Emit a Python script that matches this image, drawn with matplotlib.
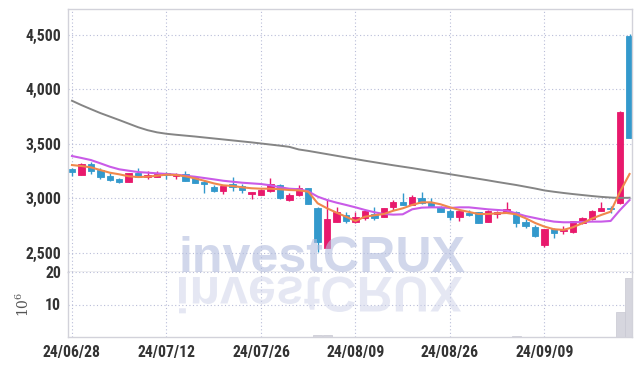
import matplotlib
matplotlib.use('Agg')
import matplotlib.pyplot as plt
from matplotlib.textpath import TextPath
from matplotlib.font_manager import FontProperties, fontManager
from matplotlib.patches import PathPatch
from matplotlib.transforms import Affine2D, IdentityTransform

plt.rcParams['mathtext.fontset'] = 'dejavuserif'

# ---------------- data ----------------
dates = ['24/06/28',
         '24/07/01', '24/07/02', '24/07/03', '24/07/04', '24/07/05', '24/07/08', '24/07/09', '24/07/10', '24/07/11', '24/07/12',
         '24/07/15', '24/07/16', '24/07/17', '24/07/18', '24/07/19', '24/07/22', '24/07/23', '24/07/24', '24/07/25', '24/07/26',
         '24/07/29', '24/07/30', '24/07/31', '24/08/01', '24/08/02', '24/08/05', '24/08/06', '24/08/07', '24/08/08', '24/08/09',
         '24/08/12', '24/08/13', '24/08/14', '24/08/16', '24/08/19', '24/08/20', '24/08/21', '24/08/22', '24/08/23', '24/08/26',
         '24/08/27', '24/08/28', '24/08/29', '24/08/30', '24/09/02', '24/09/03', '24/09/04', '24/09/05', '24/09/06', '24/09/09',
         '24/09/10', '24/09/11', '24/09/12', '24/09/13', '24/09/19', '24/09/20', '24/09/23', '24/09/24', '24/09/25']

opens = [3269, 3216, 3315, 3260, 3204, 3177, 3152, 3235, 3198, 3198,
         3235, 3207, 3223, 3193, 3149, 3104, 3070, 3128, 3113, 3042,
         3033, 3070, 3122, 2984, 3027, 3092, 2911, 2547, 2785, 2847,
         2785, 2822, 2853, 2831, 2924, 2969, 2939, 3000, 2969, 2917,
         2884, 2832, 2865, 2874, 2783, 2859, 2868, 2874, 2786, 2734,
         2572, 2716, 2697, 2688, 2773, 2810, 2886, 2908, 2960, 4491]
highs = [3275, 3321, 3333, 3281, 3235, 3186, 3235, 3275, 3253, 3253,
         3241, 3231, 3248, 3198, 3168, 3125, 3116, 3193, 3128, 3061,
         3083, 3183, 3128, 3051, 3122, 3098, 2917, 2996, 2917, 2874,
         2871, 2893, 2917, 2914, 2982, 3051, 3027, 3058, 3000, 2932,
         2899, 2899, 2893, 2877, 2890, 2884, 2969, 2884, 2807, 2752,
         2721, 2730, 2743, 2795, 2831, 2893, 2963, 2932, 3803, 4504]
lows = [3204, 3211, 3223, 3180, 3159, 3140, 3146, 3192, 3174, 3192,
        3180, 3174, 3158, 3140, 3051, 3055, 3037, 3064, 3051, 2994,
        3027, 3055, 2991, 2978, 3021, 2945, 2510, 2541, 2780, 2771,
        2776, 2804, 2798, 2829, 2893, 2939, 2936, 2945, 2917, 2874,
        2801, 2795, 2838, 2774, 2780, 2822, 2862, 2734, 2728, 2642,
        2556, 2639, 2670, 2682, 2764, 2801, 2880, 2868, 2948, 3556]
closes = [3241, 3315, 3253, 3198, 3171, 3152, 3229, 3198, 3213, 3220,
          3211, 3225, 3161, 3143, 3134, 3067, 3113, 3106, 3076, 3061,
          3076, 3131, 3006, 3033, 3092, 2950, 2599, 2810, 2874, 2795,
          2829, 2884, 2822, 2908, 2966, 2939, 3012, 2954, 2932, 2877,
          2832, 2884, 2850, 2776, 2884, 2877, 2902, 2776, 2746, 2654,
          2716, 2679, 2712, 2789, 2822, 2886, 2911, 2899, 3791, 3556]

ma5 = [3305, 3296, 3284, 3259, 3235, 3220, 3202, 3195, 3198, 3207,
       3217, 3214, 3202, 3183, 3161, 3137, 3119, 3113, 3101, 3092,
       3088, 3088, 3083, 3076, 3073, 3061, 2954, 2908, 2868, 2831,
       2792, 2831, 2844, 2856, 2886, 2908, 2939, 2963, 2963, 2945,
       2917, 2893, 2875, 2856, 2856, 2862, 2865, 2853, 2817, 2774,
       2740, 2716, 2710, 2734, 2771, 2813, 2847, 2877, 3061, 3223]
ma10 = [3388, 3370, 3351, 3321, 3290, 3266, 3253, 3241, 3235, 3229,
        3223, 3217, 3207, 3198, 3186, 3174, 3161, 3152, 3143, 3137,
        3131, 3119, 3101, 3088, 3083, 3064, 3015, 2984, 2960, 2939,
        2917, 2893, 2872, 2856, 2850, 2853, 2899, 2914, 2917, 2917,
        2911, 2917, 2917, 2908, 2899, 2893, 2887, 2862, 2837, 2819,
        2801, 2786, 2780, 2780, 2783, 2786, 2786, 2792, 2893, 2984]
ma_long = [3895, 3855, 3818, 3782, 3750, 3718, 3685, 3652, 3625, 3605,
           3592, 3583, 3575, 3567, 3558, 3549, 3540, 3531, 3522, 3513,
           3503, 3493, 3483, 3472, 3448, 3435, 3420, 3405, 3390, 3375,
           3360, 3345, 3331, 3317, 3303, 3290, 3277, 3263, 3249, 3235,
           3221, 3207, 3193, 3179, 3165, 3150, 3136, 3122, 3106, 3090,
           3072, 3060, 3049, 3039, 3030, 3021, 3013, 3007, 3003, 3005]

volumes = [0.03, 0.03, 0.03, 0.02, 0.02, 0.02, 0.03, 0.02, 0.02, 0.02,
           0.02, 0.02, 0.02, 0.02, 0.03, 0.03, 0.02, 0.02, 0.02, 0.02,
           0.02, 0.03, 0.04, 0.03, 0.03, 0.05, 0.45, 0.45, 0.05, 0.03,
           0.03, 0.03, 0.03, 0.02, 0.03, 0.03, 0.03, 0.03, 0.02, 0.02,
           0.02, 0.02, 0.02, 0.03, 0.03, 0.02, 0.03, 0.20, 0.03, 0.04,
           0.05, 0.03, 0.02, 0.03, 0.03, 0.03, 0.04, 0.03, 7.6, 18.1]

price_ticks = [2500, 3000, 3500, 4000, 4500]
price_tick_labels = ['2,500', '3,000', '3,500', '4,000', '4,500']
vol_ticks = [10, 20]
vol_tick_labels = ['10', '20']
x_tick_labels = ['24/06/28', '24/07/12', '24/07/26', '24/08/09', '24/08/26', '24/09/09']

# ---------------- style ----------------
UP = '#E8196C'
DOWN = '#3399CC'
GRID = '#b9bdd8'
SPINE = '#d2d2da'

installed = {f.name for f in fontManager.ttflist}
narrow_candidates = ['Roboto Condensed', 'Open Sans Condensed', 'Liberation Sans Narrow',
                     'Noto Sans Display Condensed', 'DejaVu Sans Condensed']
narrow = [f for f in narrow_candidates if f in installed]
if narrow:
    LABEL_FONT = [narrow[0], 'DejaVu Sans']
    LABEL_SIZE = 11.3
else:
    LABEL_FONT = ['Liberation Sans', 'DejaVu Sans']
    LABEL_SIZE = 10.0

W, H = 642, 366
fig = plt.figure(figsize=(W / 100, H / 100), dpi=100)
x_left, x_right = 68, 632
y_top, y_mid, y_bot = 9.3, 272.3, 336.7
ax = fig.add_axes([x_left / W, 1 - y_mid / H, (x_right - x_left) / W, (y_mid - y_top) / H])
axv = fig.add_axes([x_left / W, 1 - y_bot / H, (x_right - x_left) / W, (y_bot - y_mid) / H], sharex=ax)

idx = list(range(len(dates)))

# candles
for i in idx:
    o, h, l, c = opens[i], highs[i], lows[i], closes[i]
    col = UP if c >= o else DOWN
    ax.vlines(i, l, h, color=col, linewidth=1.0, zorder=2)
    bottom = min(o, c)
    height = max(abs(c - o), 10)
    ax.bar(i, height, bottom=bottom, width=0.68, color=col, edgecolor=col,
           linewidth=0.6, zorder=2)

ax.plot(idx, ma_long, color='#858585', linewidth=1.4, zorder=3)
ax.plot(idx, ma10, color='#C95BE8', linewidth=1.5, zorder=3)
ax.plot(idx, ma5, color='#F0884C', linewidth=1.5, zorder=4)

ax.set_xlim(-0.42, 59.26)
ax.set_ylim(2321, 4734)
ax.set_yticks(price_ticks)
ax.set_yticklabels(price_tick_labels)

# volume
axv.bar(idx, volumes, width=0.95, color='#d6d6de', edgecolor='#c8c8d2', linewidth=0.5, zorder=2)
axv.set_ylim(0, 20)
axv.set_yticks(vol_ticks)
axv.set_yticklabels(vol_tick_labels)
tick_pos = [dates.index(d) for d in x_tick_labels]
axv.set_xticks(tick_pos)
axv.set_xticklabels(x_tick_labels)
axv.set_ylabel('$10^{6}$', fontsize=10, color='#555555')
axv.yaxis.set_label_coords((32 - x_left) / (x_right - x_left), 0.5)

for a in (ax, axv):
    a.grid(True, linestyle=(0, (1, 2.2)), color=GRID, linewidth=0.8, zorder=0)
    a.set_axisbelow(True)
    a.tick_params(length=0, pad=5, labelsize=LABEL_SIZE, labelcolor='#333333')
    for lab in a.get_xticklabels() + a.get_yticklabels():
        lab.set_family(LABEL_FONT)
        lab.set_fontweight('bold')
    for s in a.spines.values():
        s.set_color(SPINE)
        s.set_linewidth(1.0)

ax.tick_params(labelbottom=False)
ax.spines['bottom'].set_color('#a9a9b6')
axv.spines['top'].set_visible(False)
axv.tick_params(axis='x', pad=6)

# watermark
wm = 'investCRUX'
fp = FontProperties(family=['Liberation Sans', 'DejaVu Sans'], weight='bold')
tp0 = TextPath((0, 0), wm, size=50, prop=fp)
bb = tp0.get_extents()
size_px = 50 * 283 / bb.width
wm_x0 = 179
fig.text(wm_x0 / W, 1 - 272 / H, wm, fontsize=size_px * 0.72,
         family=['Liberation Sans', 'DejaVu Sans'], fontweight='bold',
         color=(0.70, 0.74, 0.87), alpha=0.6, ha='left', va='baseline', zorder=10)
tp = TextPath((0, 0), wm, size=size_px, prop=fp)
trans = Affine2D().scale(1, -1).translate(wm_x0 - tp.get_extents().x0, H - 277) + IdentityTransform()
refl = PathPatch(tp, transform=trans, facecolor=(0.80, 0.82, 0.91), edgecolor='none',
                 alpha=0.5, zorder=10)
fig.add_artist(refl)

fig.savefig('out.png', dpi=100)
